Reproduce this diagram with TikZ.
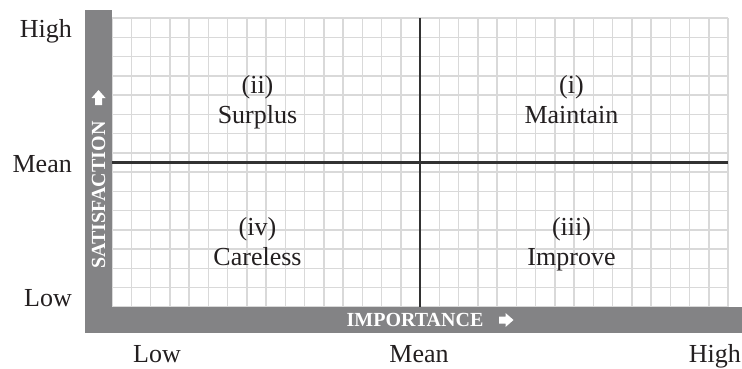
\documentclass[tikz,border=0pt]{standalone}
\usepackage{fontspec}
\setmainfont{Liberation Serif}
\definecolor{barcol}{RGB}{131,131,133}
\definecolor{gridcol}{RGB}{217,217,217}
\definecolor{axcol}{RGB}{50,50,50}
\definecolor{txtcol}{RGB}{35,31,32}
\begin{document}
\begin{tikzpicture}[x=1bp,y=1bp,
  lbl/.style={font=\fontsize{26bp}{30bp}\selectfont, text=txtcol, inner sep=0pt},
  barlbl/.style={font=\fontsize{20bp}{24bp}\selectfont\bfseries, text=white, inner sep=0pt},
  gridline/.style={draw=gridcol, line width=1.5bp},
  axisline/.style={draw=axcol, line width=2.2bp},
  barfill/.style={fill=barcol, draw=none},
  arrowglyph/.style={fill=white, draw=none}]
\useasboundingbox (0,0) rectangle (742,368);
% named reference points
\coordinate (gridSW) at (112,61);
\coordinate (gridNE) at (728,350);
\coordinate (meanTop) at (420,350);
\coordinate (meanBot) at (420,61);
\coordinate (meanL) at (112,205.5);
\coordinate (meanR) at (728,205.5);
% grid
\foreach \i in {0,...,32} \draw[gridline] ({112+19.25*\i},61) -- ({112+19.25*\i},350);
\foreach \j in {0,...,15} \draw[gridline] (112,{61+19.2667*\j}) -- (728,{61+19.2667*\j});
% frame bars
\path[barfill] (85,35) rectangle (742,61);
\path[barfill] (85,35) rectangle (112,358);
% axis lines
\draw[axisline] (meanTop) -- (meanBot);
\draw[axisline] (meanL) -- (meanR);
% axis level labels
\node[lbl, anchor=base east] (yhigh) at (72,331) {High};
\node[lbl, anchor=base east] (ymean) at (72,196) {Mean};
\node[lbl, anchor=base east] (ylow) at (72,62) {Low};
\node[lbl, anchor=base] (xlow) at (157,6) {Low};
\node[lbl, anchor=base] (xmean) at (419,6) {Mean};
\node[lbl, anchor=base east] (xhigh) at (741,6) {High};
% quadrant labels
\node[lbl, anchor=base] (q2n) at (257.5,275) {(ii)};
\node[lbl, anchor=base] (q2) at (257.5,245) {Surplus};
\node[lbl, anchor=base] (q1n) at (571.5,275) {(i)};
\node[lbl, anchor=base] (q1) at (571.5,245) {Maintain};
\node[lbl, anchor=base] (q4n) at (257.5,133) {(iv)};
\node[lbl, anchor=base] (q4) at (257.5,103) {Careless};
\node[lbl, anchor=base] (q3n) at (571.5,133) {(iii)};
\node[lbl, anchor=base] (q3) at (571.5,103) {Improve};
% bar labels
\node[barlbl, anchor=base, rotate=90] (ylab) at (105,173) {SATISFACTION};
\node[barlbl, anchor=base] (xlab) at (415,41.25) {IMPORTANCE};
% white block arrows
\path[arrowglyph] (95,263) -- (102,263) -- (102,270) -- (105.5,270) -- (98.5,278) -- (91.5,270) -- (95,270) -- cycle;
\path[arrowglyph] (499,44.5) -- (505.5,44.5) -- (505.5,41) -- (513.5,48) -- (505.5,55) -- (505.5,51.5) -- (499,51.5) -- cycle;
\end{tikzpicture}
\end{document}
